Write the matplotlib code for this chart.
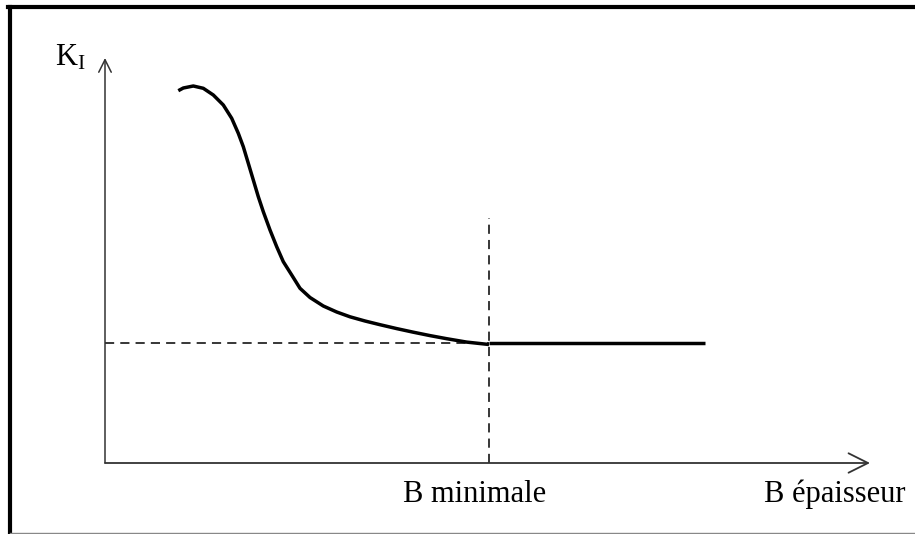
import matplotlib
matplotlib.use("Agg")
import matplotlib.pyplot as plt
from matplotlib.lines import Line2D

plt.rcParams['font.family'] = ['Liberation Serif', 'DejaVu Serif']
plt.rcParams['mathtext.fontset'] = 'custom'
plt.rcParams['mathtext.rm'] = 'Liberation Serif'

#%% data (thickness B, stress intensity K_I), arbitrary units
b_curve = [0.733, 0.783, 0.883, 0.983, 1.083, 1.183, 1.267, 1.333, 1.383,
           1.433, 1.483, 1.533, 1.583, 1.650, 1.717, 1.783, 1.867, 1.950,
           2.050, 2.183, 2.317, 2.450, 2.600, 2.750, 2.917, 3.083, 3.250,
           3.417, 3.617, 3.840]
k_curve = [3.723, 3.750, 3.770, 3.747, 3.680, 3.580, 3.447, 3.297, 3.163,
           2.997, 2.830, 2.663, 2.513, 2.330, 2.163, 2.013, 1.880, 1.747,
           1.655, 1.570, 1.510, 1.462, 1.420, 1.383, 1.344, 1.308, 1.274,
           1.243, 1.209, 1.185]
b_min = 3.84
k_plateau = 1.20
b_end = 6.00
x_axis_end = 7.65
y_axis_end = 4.05
b_min_line_top = 2.45

#%% figure
fig = plt.figure(figsize=(9.15, 5.34), dpi=100)
ax = fig.add_axes([0, 0, 1, 1])
ax.set_xlim(-1.05, 8.10)
ax.set_ylim(-0.71, 4.63)
ax.axis('off')

# axes with open arrows
ax.annotate('', xy=(x_axis_end, 0), xytext=(0, 0),
            arrowprops=dict(arrowstyle='->,head_length=0.7,head_width=0.35',
                            color='#333333', lw=1.3, mutation_scale=20,
                            shrinkA=0, shrinkB=0))
ax.annotate('', xy=(0, y_axis_end), xytext=(0, 0),
            arrowprops=dict(arrowstyle='->,head_length=0.5,head_width=0.25',
                            color='#333333', lw=1.1, mutation_scale=18,
                            shrinkA=0, shrinkB=0))

# dashed guides
ax.plot([0, b_min], [k_plateau, k_plateau], color='black', lw=1.1,
        linestyle=(0, (6, 4)))
ax.plot([b_min, b_min], [0, b_min_line_top], color='black', lw=1.1,
        linestyle=(0, (6, 4)))

# K_I curve
ax.plot(b_curve, k_curve, color='black', lw=2.5, solid_capstyle='butt',
        solid_joinstyle='round')
ax.plot([b_min, b_end], [k_plateau, k_plateau], color='black', lw=2.5,
        solid_capstyle='butt')

# labels
ax.text(-0.50, 3.98, r'$\mathrm{K_I}$', fontsize=22, ha='left', va='baseline')
ax.text(2.98, -0.39, 'B minimale', fontsize=22, ha='left', va='baseline')
ax.text(6.59, -0.39, 'B épaisseur', fontsize=22, ha='left', va='baseline')

# frame
fig.add_artist(Line2D([10 / 915, 10 / 915], [0, 1 - 7 / 534], color='black',
                      lw=3, transform=fig.transFigure))
fig.add_artist(Line2D([8 / 915, 1], [1 - 7 / 534, 1 - 7 / 534], color='black',
                      lw=3, transform=fig.transFigure))
fig.add_artist(Line2D([10 / 915, 1], [1 / 534, 1 / 534], color='#888888',
                      lw=1, transform=fig.transFigure))

fig.savefig('out.png', dpi=100)
